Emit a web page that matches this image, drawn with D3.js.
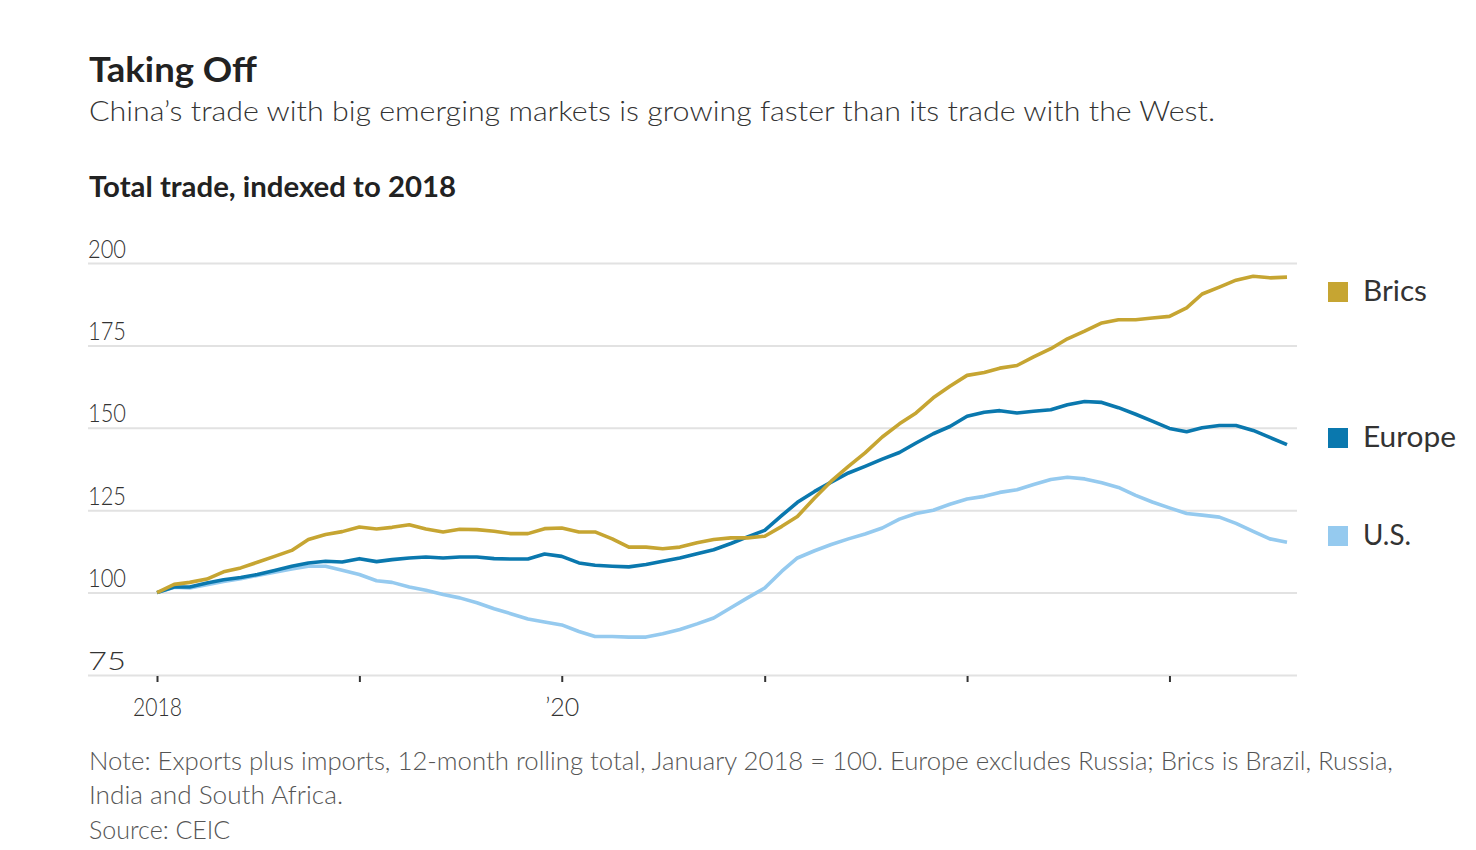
<!DOCTYPE html>
<html>
<head>
<meta charset="utf-8">
<script src="https://cdn.jsdelivr.net/npm/d3@7"></script>
<style>
  html, body { margin: 0; padding: 0; background: #fff; }
  svg { display: block; }
  text { font-family: Lato, "Noto Sans", sans-serif; }
</style>
</head>
<body>
<svg id="chart" width="1476" height="850"></svg>
<script>
// ---- Data (monthly, Jan 2018 = 100) ----
const startMonth = "2018-01";
const brics = [100,102.5,103.1,104.1,106.3,107.5,109.2,111,112.8,116.1,117.6,118.5,
  119.9,119.3,119.8,120.6,119.3,118.4,119.2,119.1,118.6,117.9,117.9,119.4,
  119.6,118.4,118.4,116.3,113.8,113.8,113.3,113.8,115.1,116.1,116.6,116.6,
  117.1,120.1,123.1,128.7,133.8,138.3,142.4,147.2,151.2,154.5,159.1,162.6,
  165.9,166.8,168.1,168.9,171.5,174,177,179.3,181.8,182.8,182.8,183.3,
  183.8,186.4,190.6,192.7,194.8,196,195.5,195.7];
const europe = [100,101.7,101.7,102.9,103.9,104.6,105.5,106.7,108,109,109.5,109.3,
  110.3,109.4,110,110.5,110.8,110.5,110.8,110.8,110.3,110.2,110.2,111.7,
  111,109,108.3,108,107.8,108.5,109.5,110.5,111.8,113,114.9,116.9,
  118.9,123.4,127.4,130.7,133.5,136.3,138.3,140.5,142.5,145.4,148.2,150.4,
  153.5,154.7,155.2,154.5,155,155.5,157,158,157.7,156.1,154.1,152,
  149.8,148.8,150,150.7,150.7,149.2,147.1,144.9];
const us = [100,101.6,101.4,102.4,103.4,104.2,105.2,106.2,107.2,108,108,106.8,
  105.5,103.6,103.1,101.7,100.7,99.4,98.4,96.9,95.1,93.6,92,91.1,
  90.2,88.2,86.7,86.7,86.5,86.5,87.5,88.8,90.5,92.3,95.4,98.4,
  101.4,106.5,110.5,112.7,114.6,116.3,117.8,119.6,122.3,124,125,126.8,
  128.4,129.2,130.4,131.2,132.8,134.3,135,134.5,133.3,131.9,129.5,127.5,
  125.7,124,123.5,122.9,121,118.6,116.3,115.3];
const seriesNames = ["Brics", "Europe", "U.S."];
const seriesColors = ["#c6a532", "#0a78ae", "#95caef"];
const yTicks = [75, 100, 125, 150, 175, 200];
const xTickYears = [2018, 2019, 2020, 2021, 2022, 2023];
const xTickLabels = ["2018", "", "\u201920", "", "", ""];

// ---- Layout ----
const svg = d3.select("#chart");
const gridLeft = 88, gridRight = 1297;
const parse = d3.timeParse("%Y-%m");
const t0 = parse(startMonth);
const dates = brics.map((_, i) => d3.timeMonth.offset(t0, i));

const x = d3.scaleTime()
  .domain([t0, dates[dates.length - 1]])
  .range([157, 1287]);
const y = d3.scaleLinear().domain([75, 200]).range([675, 263]);

function fit(sel, w) {
  sel.each(function () {
    const len = this.getComputedTextLength();
    if (Math.abs(len - w) > 1) {
      d3.select(this).attr("textLength", w).attr("lengthAdjust", "spacingAndGlyphs");
    }
  });
}

// Headline texts
svg.append("text").attr("x", 89).attr("y", 82)
  .style("font-size", "35px").style("font-weight", 700).attr("fill", "#222")
  .text("Taking Off").call(fit, 168);
svg.append("text").attr("x", 89).attr("y", 121)
  .style("font-size", "28px").style("font-weight", 300).attr("fill", "#333")
  .text("China\u2019s trade with big emerging markets is growing faster than its trade with the West.")
  .call(fit, 1126);
svg.append("text").attr("x", 89).attr("y", 197)
  .style("font-size", "28px").style("font-weight", 700).attr("fill", "#222")
  .text("Total trade, indexed to 2018").call(fit, 367);

// Gridlines & y labels
const yAxis = d3.axisLeft(y).tickValues(yTicks)
  .tickSize(-(gridRight - gridLeft)).tickFormat(d3.format("d"));
const gy = svg.append("g").attr("transform", `translate(${gridLeft},0)`).call(yAxis);
gy.select(".domain").remove();
gy.selectAll(".tick line").attr("stroke", "#e2e2e2").attr("stroke-width", 2);
gy.selectAll(".tick text")
  .attr("x", 0).attr("dy", -6).attr("y", 0)
  .attr("text-anchor", "start").attr("dominant-baseline", "auto")
  .style("font-size", "25px").style("font-weight", 300).attr("fill", "#333")
  .style("font-family", "Lato, 'Noto Sans', sans-serif")
  .call(fit, 38);

// X axis ticks
const xAxis = d3.axisBottom(x)
  .tickValues(xTickYears.map(yr => new Date(yr, 0, 1)))
  .tickSize(6)
  .tickFormat((d, i) => xTickLabels[i]);
const gx = svg.append("g").attr("transform", `translate(0,${y(75) + 1})`).call(xAxis);
gx.select(".domain").remove();
gx.selectAll(".tick line").attr("stroke", "#333").attr("stroke-width", 2);
gx.selectAll(".tick text")
  .attr("y", 22).attr("dy", "0.71em")
  .style("font-size", "25px").style("font-weight", 300).attr("fill", "#333")
  .style("font-family", "Lato, 'Noto Sans', sans-serif");
gx.selectAll(".tick text").filter((d, i) => xTickLabels[i] === "2018").call(fit, 49);

// Lines
const line = d3.line().x((d, i) => x(dates[i])).y(d => y(d));
const allSeries = [brics, europe, us];
[2, 1, 0].forEach(k => {
  svg.append("path").datum(allSeries[k])
    .attr("d", line).attr("fill", "none")
    .attr("stroke", seriesColors[k]).attr("stroke-width", 3.6)
    .attr("stroke-linejoin", "round");
});

// Legend
const legendY = [292, 438, 536];
const legendW = [64, 93, 48];
seriesNames.forEach((name, k) => {
  svg.append("rect").attr("x", 1328).attr("y", legendY[k] - 10)
    .attr("width", 20).attr("height", 20).attr("fill", seriesColors[k]);
  svg.append("text").attr("x", 1363).attr("y", legendY[k] + 9)
    .style("font-size", "29px").style("font-weight", 400).attr("fill", "#333")
    .text(name).call(fit, legendW[k]);
});

// Notes
const notes = [
  ["Note: Exports plus imports, 12-month rolling total, January 2018 = 100. Europe excludes Russia; Brics is Brazil, Russia,", 770, 1304],
  ["India and South Africa.", 804, 254],
  ["Source: CEIC", 839, 142]
];
notes.forEach(([t, yy, w]) => {
  svg.append("text").attr("x", 89).attr("y", yy)
    .style("font-size", "25px").style("font-weight", 300).attr("fill", "#555")
    .text(t).call(fit, w);
});
</script>
</body>
</html>
